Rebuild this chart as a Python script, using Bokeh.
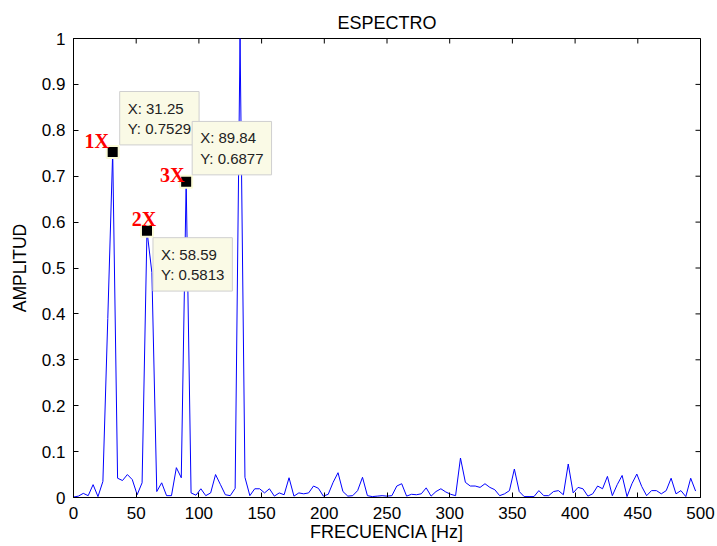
import numpy as np
from bokeh.plotting import figure
from bokeh.models import Range1d, FixedTicker, Label, ColumnDataSource
from bokeh.embed import file_html
from bokeh.resources import INLINE

# ---- data ----
fs = 1000.0
n_fft = 256
amplitud = [
    0.001, 0.003, 0.009, 0.004, 0.028, 0.002, 0.035, 0.39, 0.7529, 0.042,
    0.037, 0.050, 0.039, 0.006, 0.032, 0.5813, 0.49, 0.013, 0.032, 0.004,
    0.004, 0.065, 0.043, 0.6877, 0.010, 0.005, 0.019, 0.004, 0.010, 0.050,
    0.028, 0.006, 0.004, 0.020, 1.0, 0.044, 0.004, 0.019, 0.019, 0.010,
    0.019, 0.003, 0.010, 0.006, 0.043, 0.003, 0.010, 0.008, 0.010, 0.025,
    0.020, 0.003, 0.007, 0.033, 0.054, 0.013, 0.003, 0.004, 0.015, 0.044,
    0.004, 0.002, 0.003, 0.004, 0.003, 0.004, 0.025, 0.030, 0.003, 0.007,
    0.006, 0.008, 0.021, 0.003, 0.013, 0.019, 0.012, 0.007, 0.004, 0.086,
    0.033, 0.025, 0.025, 0.022, 0.030, 0.022, 0.017, 0.004, 0.008, 0.015,
    0.062, 0.013, 0.002, 0.002, 0.002, 0.015, 0.004, 0.004, 0.013, 0.015,
    0.006, 0.073, 0.010, 0.022, 0.019, 0.003, 0.008, 0.025, 0.019, 0.046,
    0.004, 0.028, 0.048, 0.002, 0.030, 0.051, 0.024, 0.004, 0.015, 0.015,
    0.008, 0.015, 0.042, 0.008, 0.015, 0.002, 0.042, 0.014,
]
frecuencia = np.arange(len(amplitud)) * fs / n_fft

peak_x = [31.25, 58.59, 89.84]
peak_y = [0.7529, 0.5813, 0.6877]
peak_names = ["1X", "2X", "3X"]

x_ticks = [0, 50, 100, 150, 200, 250, 300, 350, 400, 450, 500]
y_ticks = [0, 0.1, 0.2, 0.3, 0.4, 0.5, 0.6, 0.7, 0.8, 0.9, 1]
y_tick_labels = ["0", "0.1", "0.2", "0.3", "0.4", "0.5", "0.6", "0.7", "0.8", "0.9", "1"]

FONT = "Liberation Sans"
X0, X1 = 0, 500
Y0, Y1 = 0, 1

p = figure(width=717, height=546, output_backend="svg", toolbar_location=None,
           x_range=Range1d(X0, X1), y_range=Range1d(Y0, Y1),
           title="ESPECTRO",
           min_border_left=73, min_border_right=17, min_border_top=38, min_border_bottom=49)
p.background_fill_color = "white"
p.border_fill_color = "white"
p.outline_line_color = "black"
p.outline_line_width = 1
p.xgrid.visible = False
p.ygrid.visible = False

p.title.align = "center"
p.title.text_font = FONT
p.title.text_font_style = "normal"
p.title.text_font_size = "18px"
p.title.text_color = "black"
p.title.offset = 0
p.title.standoff = 12

for ax in (p.xaxis[0], p.yaxis[0]):
    ax.major_label_text_font = FONT
    ax.major_label_text_font_size = "17px"
    ax.major_label_text_color = "black"
    ax.axis_label_text_font = FONT
    ax.axis_label_text_font_size = "18px"
    ax.axis_label_text_font_style = "normal"
    ax.axis_label_text_color = "black"
    ax.major_tick_in = 5
    ax.major_tick_out = 0
    ax.minor_tick_line_color = None
    ax.axis_line_color = "black"
    ax.major_tick_line_color = "black"

p.xaxis[0].ticker = FixedTicker(ticks=x_ticks)
p.yaxis[0].ticker = FixedTicker(ticks=y_ticks)
p.yaxis[0].major_label_overrides = {t: l for t, l in zip(y_ticks, y_tick_labels)}
p.xaxis[0].axis_label = "FRECUENCIA [Hz]"
p.yaxis[0].axis_label = "AMPLITUD"
p.xaxis[0].major_label_standoff = 9
p.xaxis[0].axis_label_standoff = 0
p.yaxis[0].major_label_standoff = 8
p.yaxis[0].axis_label_standoff = 9
p.yaxis[0].axis_label_text_font_size = "17.5px"

# box ticks on the top and right edges (clipped to the frame -> inward half shows)
p.scatter(x=x_ticks, y=[Y1] * len(x_ticks), marker="dash", angle=np.pi / 2,
          size=10, line_color="black", line_width=1)
p.scatter(x=[X1] * len(y_ticks), y=y_ticks, marker="dash",
          size=10, line_color="black", line_width=1)

# spectrum
p.line(frecuencia, amplitud, line_color="#0000ff", line_width=1)

# data tip markers
src = ColumnDataSource(dict(x=peak_x, y=peak_y))
p.scatter("x", "y", source=src, marker="square", size=12,
          fill_color="black", line_color="#fbfbd8", line_width=2)

# data tip boxes (1X, 2X, then 3X on top)
tip_offsets = {0: (7, 7, "bottom_left"), 1: (6, -7, "top_left"), 2: (6, 7, "bottom_left")}
for i in [0, 1, 2]:
    dx, dy, anchor = tip_offsets[i]
    txt = "X: %s\nY: %s" % (f"{peak_x[i]:.2f}", f"{peak_y[i]:.4f}")
    lbl = Label(x=peak_x[i], y=peak_y[i], x_offset=dx, y_offset=dy,
                text=txt, anchor=anchor,
                text_font=FONT, text_font_size="15px", text_color="#222222",
                text_line_height=1.2,
                background_fill_color="#fafae6", background_fill_alpha=1.0,
                border_line_color="#cfcfcf", border_line_width=1,
                padding=8)
    p.add_layout(lbl)

# red harmonic labels
name_offsets = [(-16, 11), (-3, 12), (-14, 7)]
for i in range(3):
    dx, dy = name_offsets[i]
    p.add_layout(Label(x=peak_x[i], y=peak_y[i], x_offset=dx, y_offset=dy,
                       text=peak_names[i], text_align="center", text_baseline="alphabetic",
                       text_font="Liberation Serif", text_font_style="bold",
                       text_font_size="20px", text_color="#ff0000"))

open("out.html", "w").write(file_html(p, INLINE))
